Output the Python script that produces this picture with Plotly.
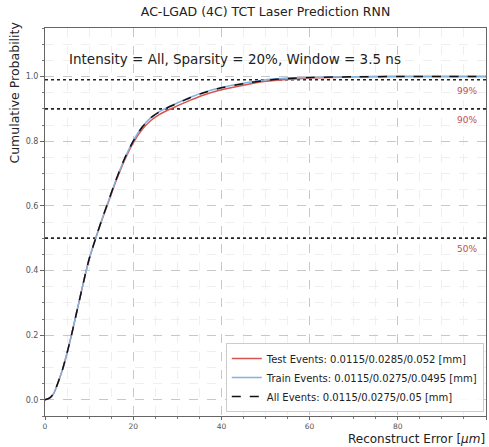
import plotly.graph_objects as go

# ---- data ----
err_um = [0, 1, 2, 3, 4, 5, 6, 7, 8, 9, 10, 11.5, 13, 14, 16, 18, 20, 22, 24, 26,
          28, 30, 33, 36, 40, 45, 50, 55, 60, 70, 80, 90, 100]
all_cdf = [0, 0.005, 0.02, 0.055, 0.095, 0.145, 0.2, 0.26, 0.32, 0.38, 0.435, 0.5,
           0.562, 0.6, 0.677, 0.745, 0.8, 0.843, 0.872, 0.891, 0.905, 0.917, 0.935,
           0.95, 0.965, 0.978, 0.988, 0.994, 0.997, 0.999, 1.0, 1.0, 1.0]
train_cdf = [0, 0.005, 0.02, 0.055, 0.095, 0.145, 0.2, 0.26, 0.32, 0.38, 0.435, 0.5,
             0.562, 0.6, 0.677, 0.745, 0.801, 0.844, 0.873, 0.892, 0.906, 0.918, 0.936,
             0.951, 0.966, 0.979, 0.99, 0.995, 0.997, 0.999, 1.0, 1.0, 1.0]
test_cdf = [0, 0.005, 0.02, 0.055, 0.095, 0.145, 0.2, 0.26, 0.32, 0.38, 0.435, 0.5,
            0.56, 0.597, 0.673, 0.74, 0.795, 0.836, 0.864, 0.883, 0.897, 0.909,
            0.927, 0.943, 0.959, 0.973, 0.985, 0.991, 0.995, 0.999, 1.0, 1.0, 1.0]

series_names = ["Test Events: 0.0115/0.0285/0.052 [mm]",
                "Train Events: 0.0115/0.0275/0.0495 [mm]",
                "All Events: 0.0115/0.0275/0.05 [mm]"]
series_colors = ["#d9534f", "#7fb3e0", "#111111"]
series_dash = ["solid", "solid", "dash"]

levels = [0.5, 0.9, 0.99]
level_labels = ["50%", "90%", "99%"]

title = "AC-LGAD (4C) TCT Laser Prediction RNN"
info = "Intensity = All, Sparsity = 20%, Window = 3.5 ns"

FONT = "DejaVu Sans"

fig = go.Figure()

for lv in levels:
    fig.add_trace(go.Scatter(x=[0, 100], y=[lv, lv], mode="lines",
                             line=dict(color="#222", width=1.6, dash="dot"),
                             showlegend=False, hoverinfo="skip"))

for name, ys, col, dsh in zip(series_names, [test_cdf, train_cdf, all_cdf],
                              series_colors, series_dash):
    fig.add_trace(go.Scatter(x=err_um, y=ys, mode="lines", name=name,
                             line=dict(color=col, width=1.5, dash=dsh, shape="spline",
                                       smoothing=0.5)))

for lv, lab in zip(levels, level_labels):
    fig.add_annotation(x=98.5, y=lv, text=lab, showarrow=False, xanchor="right",
                       yanchor="top", yshift=-4,
                       font=dict(family=FONT, size=9, color="#c0504d"))

fig.add_annotation(x=0.05, y=0.92, xref="paper", yref="paper", text=info,
                   showarrow=False, xanchor="left", yanchor="middle",
                   font=dict(family=FONT, size=13.5, color="#222"))

fig.add_annotation(x=1.0, y=-0.0593, xref="paper", yref="paper",
                   text="Reconstruct Error [<i>μm</i>]", showarrow=False,
                   xanchor="right", yanchor="middle", borderpad=0,
                   font=dict(family=FONT, size=12, color="#222"))
fig.add_annotation(x=-0.07, y=0.834, xref="paper", yref="paper",
                   text="Cumulative Probability", showarrow=False, textangle=-90,
                   xanchor="center", yanchor="middle",
                   font=dict(family=FONT, size=12.5, color="#222"))

axis_common = dict(showline=True, mirror=True, linecolor="#666", linewidth=1,
                   ticks="outside", tickcolor="#666",
                   showgrid=True, gridcolor="#c8c8c8", griddash="dash", gridwidth=1,
                   zeroline=False)

fig.update_xaxes(range=[0, 100], dtick=20, tick0=0, ticklen=3,
                 tickfont=dict(family=FONT, size=7.5, color="#555"),
                 minor=dict(dtick=5, showgrid=True, gridcolor="#efefef", ticks="outside",
                            ticklen=2, tickcolor="#777"),
                 **axis_common)
fig.update_yaxes(range=[-0.05, 1.15], tickvals=[0, 0.2, 0.4, 0.6, 0.8, 1.0],
                 ticktext=["0.0", "0.2", "0.4", "0.6", "0.8", "1.0"], ticklen=4,
                 tickfont=dict(family=FONT, size=8, color="#555"),
                 minor=dict(dtick=0.05, tick0=0, showgrid=True, gridcolor="#efefef",
                            ticks="outside", ticklen=2, tickcolor="#777"),
                 **axis_common)

fig.update_layout(
    width=489, height=447,
    margin=dict(l=45, r=3, t=28, b=31),
    paper_bgcolor="white", plot_bgcolor="white",
    title=dict(text=title, x=0.543, xanchor="center", y=0.975, yanchor="middle",
               font=dict(family=FONT, size=12.5, color="#222")),
    legend=dict(x=0.995, y=0.01, xanchor="right", yanchor="bottom",
                bgcolor="rgba(255,255,255,0.9)", bordercolor="#ccc", borderwidth=1,
                font=dict(family=FONT, size=10, color="#222"),
                itemwidth=30, tracegroupgap=0),
    font=dict(family=FONT),
)

fig.write_html("out.html")
